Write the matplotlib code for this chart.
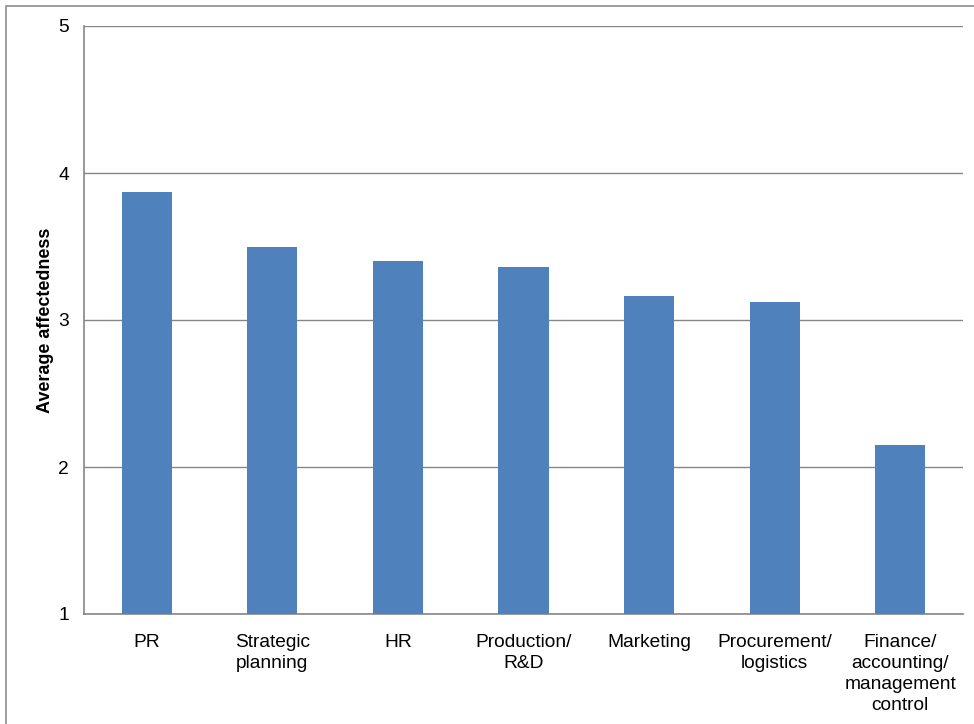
import matplotlib.pyplot as plt
from matplotlib.patches import Rectangle

categories = ['PR', 'Strategic\nplanning', 'HR', 'Production/\nR&D', 'Marketing',
              'Procurement/\nlogistics', 'Finance/\naccounting/\nmanagement\ncontrol']
values = [3.87, 3.50, 3.40, 3.36, 3.16, 3.12, 2.15]
yticks = [1, 2, 3, 4, 5]

plt.rcParams['font.family'] = ['Liberation Sans', 'DejaVu Sans']

fig = plt.figure(figsize=(9.74, 7.24), dpi=100)
ax = fig.add_axes([84 / 974, 1 - 614 / 724, (963 - 84) / 974, (614 - 26) / 724])

# outer chart border (clipped on right and bottom like the reference)
fig.patches.append(Rectangle((6 / 974, -0.1), 1.2, 0.1 + 718 / 724,
                             transform=fig.transFigure, fill=False,
                             edgecolor='#8c8c8c', linewidth=1.2))

x = range(len(categories))
ax.bar(x, values, width=0.4, color='#4F81BD', bottom=0, zorder=3)

ax.set_xlim(-0.5, len(categories) - 0.5)
ax.set_ylim(1, 5)
ax.set_yticks(yticks)
ax.set_xticks(list(x))
ax.set_xticklabels(categories, fontsize=13.8, linespacing=1.3)
ax.tick_params(axis='y', labelsize=13.8, length=0, pad=11)
ax.tick_params(axis='x', length=0, pad=14.5)
ax.grid(axis='y', color='#868686', linewidth=1, zorder=0)
ax.set_axisbelow(True)

for s in ['top', 'right']:
    ax.spines[s].set_visible(False)
for s in ['left', 'bottom']:
    ax.spines[s].set_color('#868686')
    ax.spines[s].set_linewidth(1.2)

ax.set_ylabel('Average affectedness', fontsize=13, fontweight='bold', labelpad=3)

fig.savefig('out.png', dpi=100)
